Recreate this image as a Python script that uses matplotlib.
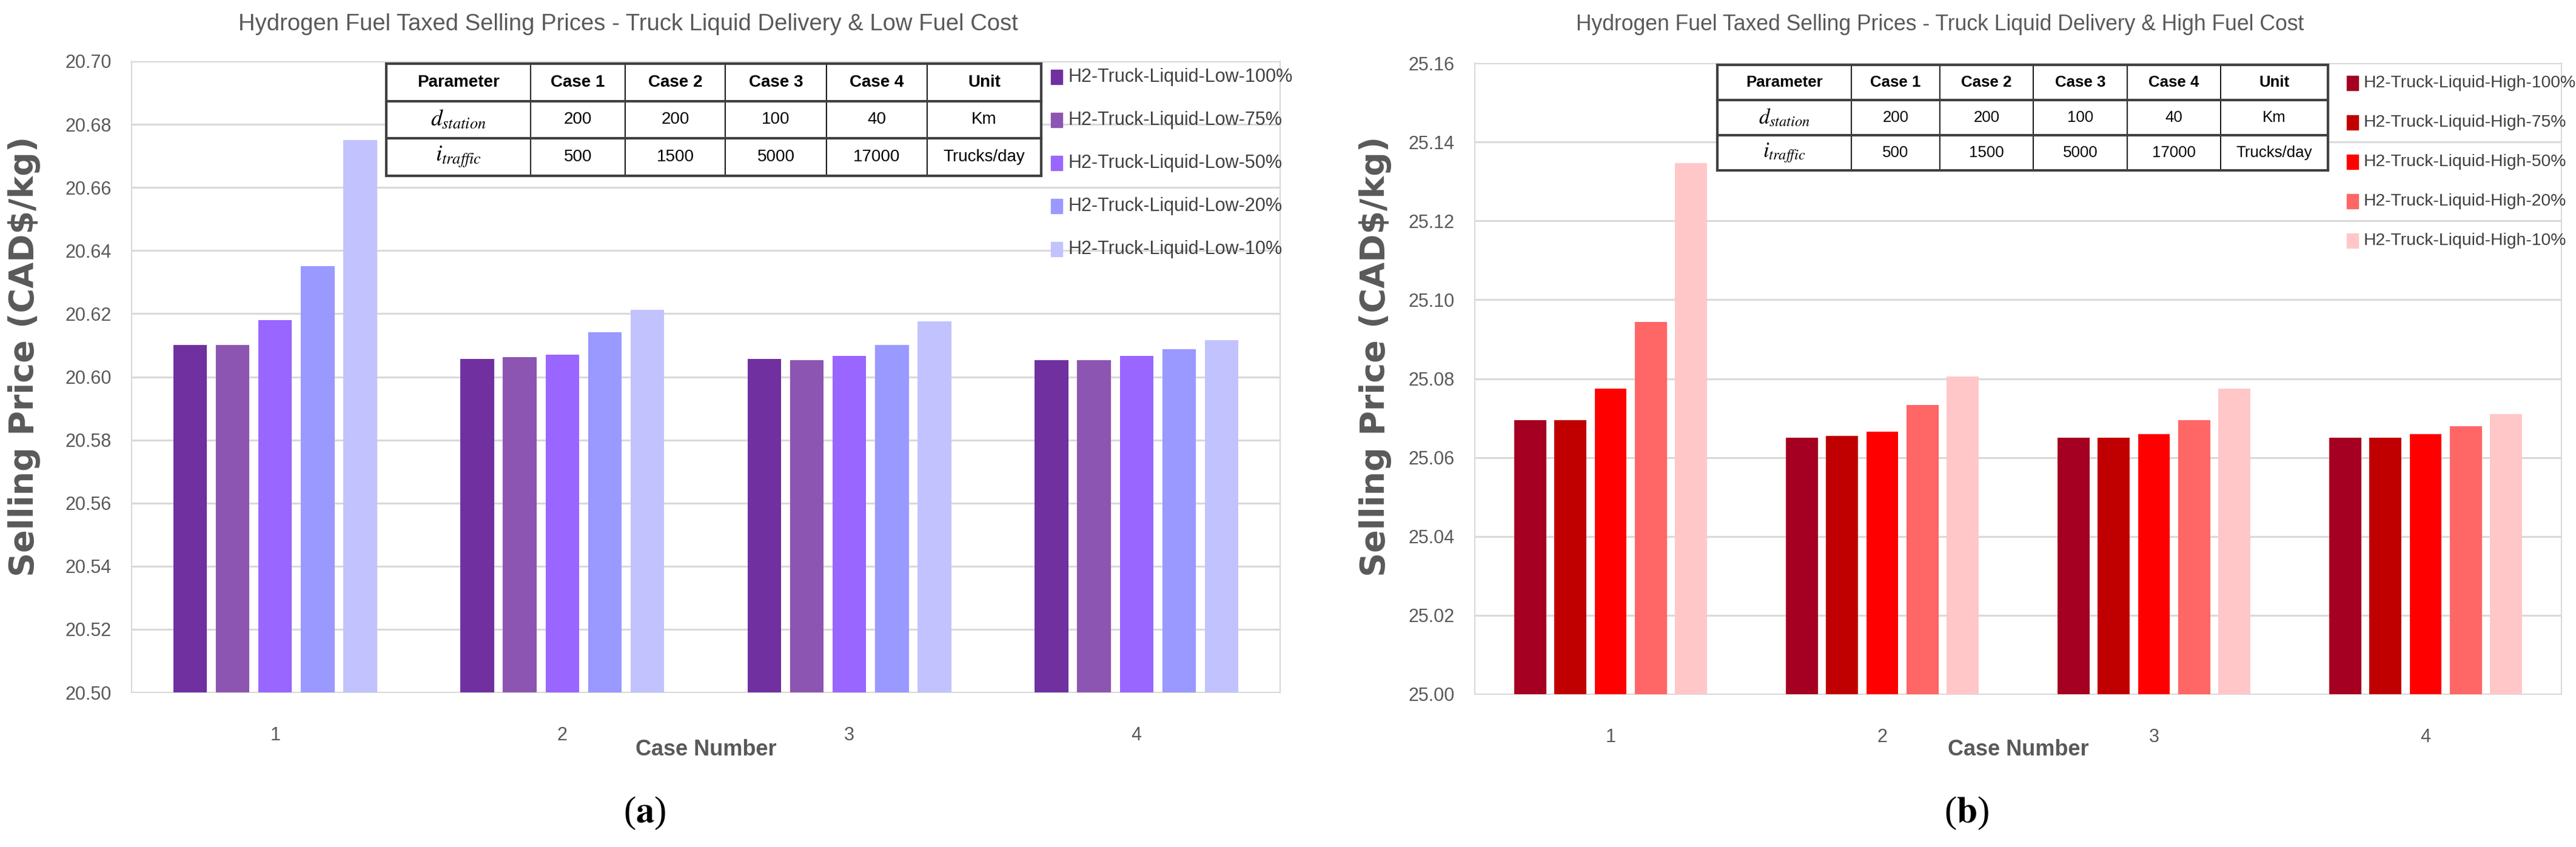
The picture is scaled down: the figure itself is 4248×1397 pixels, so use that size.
import matplotlib
matplotlib.use("Agg")
import matplotlib.pyplot as plt
from matplotlib.patches import Rectangle

plt.rcParams['font.family'] = ['Liberation Sans', 'DejaVu Sans']
plt.rcParams['mathtext.fontset'] = 'stix'

cases = ['1', '2', '3', '4']
shares = ['100%', '75%', '50%', '20%', '10%']

low_labels = ['H2-Truck-Liquid-Low-' + s for s in shares]
low_colors = ['#7030A0', '#8C55B1', '#9966FF', '#9A99FF', '#C2C2FF']
low_100 = [20.610, 20.6057, 20.6057, 20.6052]
low_75 = [20.610, 20.6062, 20.6052, 20.6052]
low_50 = [20.618, 20.6071, 20.6066, 20.6066]
low_20 = [20.635, 20.6142, 20.6101, 20.6087]
low_10 = [20.675, 20.6212, 20.6176, 20.6117]

high_labels = ['H2-Truck-Liquid-High-' + s for s in shares]
high_colors = ['#A50021', '#C00000', '#FF0000', '#FF6666', '#FFC7C7']
high_100 = [25.0695, 25.065, 25.065, 25.065]
high_75 = [25.0695, 25.0655, 25.065, 25.065]
high_50 = [25.0775, 25.0665, 25.066, 25.066]
high_20 = [25.0943, 25.0733, 25.0695, 25.068]
high_10 = [25.1346, 25.0805, 25.0775, 25.071]

table_cols = ['Parameter', 'Case 1', 'Case 2', 'Case 3', 'Case 4', 'Unit']
d_station = [r'$d_{station}$', '200', '200', '100', '40', 'Km']
i_traffic = [r'$i_{traffic}$', '500', '1500', '5000', '17000', 'Trucks/day']

W, H = 4248, 1397
fig = plt.figure(figsize=(W / 100, H / 100), dpi=100)
gray = '#595959'
grid = '#D9D9D9'


def fx(px):
    return px / W


def fy(py):
    return 1 - py / H


def panel(box, series, colors, labels, ylim, title, title_x, ylab_x, tbox, widths,
          leg_x, leg_y0, leg_dy, tag, tag_x, s=1.0):
    ax = fig.add_axes([fx(box[0]), fy(box[3]), fx(box[2] - box[0]), (box[3] - box[1]) / H])
    step, bw = 0.148, 0.117
    for k, vals in enumerate(series):
        xs = [i + (k - 2) * step for i in range(len(cases))]
        ax.bar(xs, [v - ylim[0] for v in vals], bw, bottom=ylim[0], color=colors[k], zorder=3)
    ax.set_xlim(-0.5, 3.5)
    ax.set_ylim(*ylim)
    ax.set_yticks([round(ylim[0] + 0.02 * j, 2) for j in range(int(round((ylim[1] - ylim[0]) / 0.02)) + 1)])
    ax.yaxis.set_major_formatter(matplotlib.ticker.FormatStrFormatter('%.2f'))
    ax.set_xticks(range(len(cases)))
    ax.set_xticklabels(cases)
    ax.grid(axis='y', color=grid, lw=2.2, zorder=0)
    ax.tick_params(length=0, labelsize=22, labelcolor=gray)
    ax.tick_params(axis='x', pad=40)
    ax.tick_params(axis='y', pad=24)
    for sp in ['left', 'right', 'bottom']:
        ax.spines[sp].set_color(grid)
        ax.spines[sp].set_linewidth(1.5)
    ax.spines['top'].set_visible(False)

    fig.text(fx(title_x), fy(40), title, ha='center', va='center', fontsize=27.5 * s, color=gray)
    fig.text(fx(ylab_x), fy(588), 'Selling Price (CAD$/kg)', rotation=90, ha='center', va='center',
             fontsize=40, fontweight='bold', color=gray, family=['DejaVu Sans'])
    fig.text(fx((box[0] + box[2]) / 2), fy(1236), 'Case Number', ha='center', va='center',
             fontsize=26, fontweight='bold', color=gray)
    fig.text(fx(tag_x), fy(1341), '(' + r'$\mathbf{' + tag + '}$' + ')', ha='center', va='center',
             fontsize=44, family='Liberation Serif', color='black')

    # parameter table
    tax = fig.add_axes([fx(tbox[0]), fy(tbox[3]), fx(tbox[2] - tbox[0]), (tbox[3] - tbox[1]) / H])
    tax.axis('off')
    tot = sum(widths)
    tb = tax.table(cellText=[d_station, i_traffic], colLabels=table_cols,
                   colWidths=[w / tot for w in widths], bbox=[0, 0, 1, 1], cellLoc='center')
    tb.auto_set_font_size(False)
    for (r, c), cell in tb.get_celld().items():
        cell.set_linewidth(1.2)
        cell.set_edgecolor('black')
        cell.set_facecolor('white')
        cell.get_text().set_fontsize(20 * s)
        if r == 0:
            cell.get_text().set_fontweight('bold')
        elif c == 0:
            cell.get_text().set_fontsize(27 * s)
    for y in [0, 1 / 3, 2 / 3, 1]:
        tax.plot([0, 1], [y, y], color='#404040', lw=3, transform=tax.transAxes, zorder=5, clip_on=False)
    for x in [0, 1]:
        tax.plot([x, x], [0, 1], color='#404040', lw=3, transform=tax.transAxes, zorder=5, clip_on=False)

    # legend
    for k, lab in enumerate(labels):
        yy = leg_y0 + k * leg_dy
        fig.patches.append(Rectangle((fx(leg_x), fy(yy + 12)), fx(19), 24 / H,
                                     transform=fig.transFigure, color=colors[k]))
        fig.text(fx(leg_x + 28), fy(yy), lab, ha='left', va='center', fontsize=22 * s, color='#404040')
    return ax


panel((217, 101, 2111, 1142), [low_100, low_75, low_50, low_20, low_10], low_colors, low_labels,
      (20.50, 20.70), 'Hydrogen Fuel Taxed Selling Prices - Truck Liquid Delivery & Low Fuel Cost',
      1036, 40, (637, 105, 1717, 290), [238, 156, 165, 167, 166, 188],
      1733, 127, 71, 'a', 1063)

panel((2432, 104, 4224, 1145), [high_100, high_75, high_50, high_20, high_10], high_colors, high_labels,
      (25.00, 25.16), 'Hydrogen Fuel Taxed Selling Prices - Truck Liquid Delivery & High Fuel Cost',
      3199, 2268, (2832, 107, 3839, 281), [221, 146, 154, 155, 154, 177],
      3870, 137, 65, 'b', 3243, s=0.93)

fig.savefig('out.png', dpi=100)
